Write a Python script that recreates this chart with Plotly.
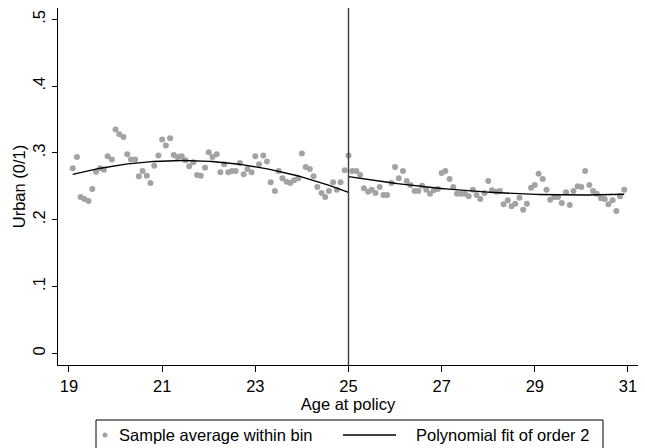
import numpy as np
import plotly.graph_objects as go

# Bin midpoints: age at policy (years), monthly bins
age = [
    19.08, 19.17, 19.25, 19.33, 19.42, 19.50, 19.58, 19.67, 19.75, 19.83, 19.92, 20.00,
    20.08, 20.17, 20.25, 20.33, 20.42, 20.50, 20.58, 20.67, 20.75, 20.83, 20.92, 21.00,
    21.08, 21.17, 21.25, 21.33, 21.42, 21.50, 21.58, 21.67, 21.75, 21.83, 21.92, 22.00,
    22.08, 22.17, 22.25, 22.33, 22.42, 22.50, 22.58, 22.67, 22.75, 22.83, 22.92, 23.00,
    23.08, 23.17, 23.25, 23.33, 23.42, 23.50, 23.58, 23.67, 23.75, 23.83, 23.92, 24.00,
    24.08, 24.17, 24.25, 24.33, 24.42, 24.50, 24.58, 24.67, 24.75, 24.83, 24.92, 25.00,
    25.08, 25.17, 25.25, 25.33, 25.42, 25.50, 25.58, 25.67, 25.75, 25.83, 25.92, 26.00,
    26.08, 26.17, 26.25, 26.33, 26.42, 26.50, 26.58, 26.67, 26.75, 26.83, 26.92, 27.00,
    27.08, 27.17, 27.25, 27.33, 27.42, 27.50, 27.58, 27.67, 27.75, 27.83, 27.92, 28.00,
    28.08, 28.17, 28.25, 28.33, 28.42, 28.50, 28.58, 28.67, 28.75, 28.83, 28.92, 29.00,
    29.08, 29.17, 29.25, 29.33, 29.42, 29.50, 29.58, 29.67, 29.75, 29.83, 29.92, 30.00,
    30.08, 30.17, 30.25, 30.33, 30.42, 30.50, 30.58, 30.67, 30.75, 30.83, 30.92,
]

# Share urban within each bin
urban = [
    0.277, 0.294, 0.234, 0.231, 0.228, 0.246, 0.272, 0.277, 0.275, 0.295, 0.290, 0.335,
    0.328, 0.324, 0.298, 0.290, 0.290, 0.265, 0.273, 0.266, 0.255, 0.281, 0.296, 0.320,
    0.311, 0.322, 0.297, 0.294, 0.295, 0.289, 0.280, 0.286, 0.267, 0.266, 0.278, 0.301,
    0.294, 0.298, 0.271, 0.283, 0.271, 0.273, 0.273, 0.285, 0.268, 0.276, 0.271, 0.295,
    0.283, 0.296, 0.287, 0.256, 0.243, 0.273, 0.262, 0.257, 0.255, 0.259, 0.262, 0.299,
    0.279, 0.276, 0.265, 0.249, 0.240, 0.234, 0.243, 0.256, 0.245, 0.256, 0.274, 0.296,
    0.273, 0.273, 0.267, 0.247, 0.242, 0.245, 0.240, 0.249, 0.237, 0.237, 0.255, 0.279,
    0.262, 0.273, 0.258, 0.252, 0.243, 0.243, 0.251, 0.245, 0.239, 0.244, 0.246, 0.270,
    0.273, 0.261, 0.249, 0.239, 0.239, 0.239, 0.235, 0.245, 0.237, 0.231, 0.240, 0.258,
    0.244, 0.242, 0.243, 0.223, 0.229, 0.220, 0.224, 0.233, 0.215, 0.224, 0.248, 0.252,
    0.269, 0.261, 0.245, 0.230, 0.234, 0.234, 0.225, 0.241, 0.222, 0.243, 0.250, 0.249,
    0.273, 0.252, 0.243, 0.239, 0.232, 0.231, 0.223, 0.229, 0.213, 0.235, 0.245,
]

cutoff = 25
x_ticks = [19, 21, 23, 25, 27, 29, 31]
y_ticks = [0, 0.1, 0.2, 0.3, 0.4, 0.5]
y_tick_text = ["0", ".1", ".2", ".3", ".4", ".5"]

FONT = "Liberation Sans, Arial, sans-serif"
FS = 16.5
DOT = "#a3a3a3"

# plot-area geometry in pixels (used for legend placement in paper coords)
L, R, T, B = 58, 638, 8, 365
def fx(px):
    return (px - L) / (R - L)
def fy(py):
    return (B - py) / (B - T)

age_a = np.array(age)
urban_a = np.array(urban)

fig = go.Figure()
fig.add_trace(go.Scatter(
    x=age, y=urban, mode="markers",
    marker=dict(size=6, color=DOT, line=dict(width=0)),
    showlegend=False, hoverinfo="skip",
))

# quadratic fit on each side of the cutoff
for mask, lo, hi in [(age_a < cutoff, age_a.min(), cutoff),
                     (age_a >= cutoff, cutoff, age_a.max())]:
    coef = np.polyfit(age_a[mask], urban_a[mask], 2)
    grid = np.linspace(lo, hi, 120)
    fig.add_trace(go.Scatter(
        x=grid, y=np.polyval(coef, grid), mode="lines",
        line=dict(color="black", width=1.4),
        showlegend=False, hoverinfo="skip",
    ))

shapes = [
    dict(type="line", xref="x", yref="paper", x0=cutoff, x1=cutoff, y0=0, y1=1,
         line=dict(color="#3a3a3a", width=1.4)),
    # legend frame
    dict(type="rect", xref="paper", yref="paper",
         x0=fx(96), x1=fx(603), y0=fy(420), y1=fy(470),
         line=dict(color="black", width=1), fillcolor="white", layer="above"),
    dict(type="circle", xref="paper", yref="paper",
         x0=fx(102.5), x1=fx(107.5), y0=fy(437.5), y1=fy(432.5),
         fillcolor=DOT, line=dict(width=0)),
    dict(type="line", xref="paper", yref="paper",
         x0=fx(343), x1=fx(396), y0=fy(435), y1=fy(435),
         line=dict(color="black", width=1.4)),
]

annotations = [
    dict(xref="paper", yref="paper", x=fx(117), y=fy(435), xanchor="left", yanchor="middle",
         text="Sample average within bin", showarrow=False,
         font=dict(family=FONT, size=FS, color="black")),
    dict(xref="paper", yref="paper", x=fx(414), y=fy(435), xanchor="left", yanchor="middle",
         text="Polynomial fit of order 2", showarrow=False,
         font=dict(family=FONT, size=FS, color="black")),
]

fig.update_layout(
    width=645, height=448,
    margin=dict(l=L, r=645 - R, t=T, b=448 - B),
    paper_bgcolor="white", plot_bgcolor="white",
    font=dict(family=FONT, size=FS, color="black"),
    shapes=shapes, annotations=annotations,
    showlegend=False,
    xaxis=dict(
        range=[18.764, 31.215], tickvals=x_ticks,
        ticks="outside", ticklen=6, tickcolor="black", tickwidth=1,
        showline=True, linecolor="black", linewidth=1,
        showgrid=False, zeroline=False,
        tickfont=dict(family=FONT, size=FS),
        title=dict(text="Age at policy", standoff=1, font=dict(family=FONT, size=FS)),
    ),
    yaxis=dict(
        range=[-0.0175, 0.517], tickvals=y_ticks, ticktext=y_tick_text,
        tickangle=-90,
        ticks="outside", ticklen=5, tickcolor="black", tickwidth=1,
        showline=True, linecolor="black", linewidth=1,
        showgrid=False, zeroline=False,
        tickfont=dict(family=FONT, size=FS),
        title=dict(text="Urban (0/1)", standoff=0, font=dict(family=FONT, size=FS)),
    ),
)

fig.write_html("out.html")
